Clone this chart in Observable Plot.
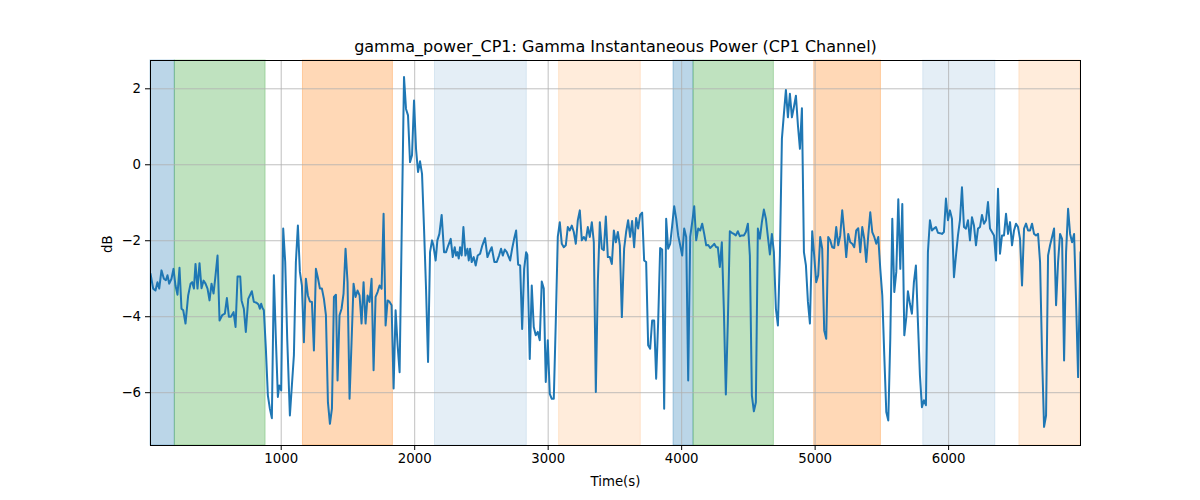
<!DOCTYPE html>
<html>
<head>
<meta charset="utf-8">
<script src="https://cdn.jsdelivr.net/npm/d3@7"></script>
<script src="https://cdn.jsdelivr.net/npm/@observablehq/plot@0.6"></script>
<style>
  html, body { margin: 0; padding: 0; background: white; }
  #chart { width: 1200px; height: 500px; }
</style>
</head>
<body>
<div id="chart"></div>
<script>
const chartTitle = "gamma_power_CP1: Gamma Instantaneous Power (CP1 Channel)";
const xLabel = "Time(s)";
const yLabel = "dB";
const xTicks = [1000, 2000, 3000, 4000, 5000, 6000];
const yTicks = [-6, -4, -2, 0, 2];

// Shaded epochs
const spanStart = [20.8, 203, 1163, 2152, 3082, 3939, 4089, 4993, 5810, 6530];
const spanEnd   = [203, 883, 1837, 2840, 3694, 4089, 4691, 5493, 6350, 6988];
const spanColor = ["#1f77b4", "#2ca02c", "#ff7f0e", "#1f77b4", "#ff7f0e", "#1f77b4", "#2ca02c", "#ff7f0e", "#1f77b4", "#ff7f0e"];
const spanAlpha = [0.3, 0.3, 0.3, 0.12, 0.15, 0.3, 0.3, 0.3, 0.12, 0.15];

// Series (time in s, power in dB)
const timeS = [20.8,40.8,58,73,86,103,121,136,148,161,178,193,208,223,238,253,266,283,303,321,333,346,358,373,388,403,418,433,448,463,478,493,508,523,538,558,578,593,608,623,643,658,673,693,
703,720,735,753,780,795,815,830,840,850,860,870,885,900,915,930,945,960,975,985,1000,1015,1030,1045,1065,1080,1095,1110,1125,1140,1155,1170,1185,1200,1215,1230,1245,1260,1275,1290,1305,1320,1335,1350,1365,1380,1395,1410,
1422,1437,1452,1467,1482,1497,1512,1527,1542,1557,1572,1587,1602,1617,1632,1647,1662,1677,1692,1707,1722,1737,1752,1767,1782,1797,1812,1827,1842,1857,1872,1887,1920,1935,1950,1965,1980,1995,2010,2025,2040,2055,2070,2085,2100,2115,2130,
2140,2157,2170,2185,2202,2220,2235,2252,2270,2285,2300,2310,2320,2330,2340,2352,2365,2380,2395,2405,2415,2427,2442,2457,2472,2490,2507,2527,2545,2560,2577,2597,2615,2632,2647,2660,2675,2690,2705,2715,2730,2745,2760,2775,2790,2805,2820,2835,
2844,2862,2877,2892,2907,2922,2937,2952,2967,2982,2997,3012,3027,3042,3057,3072,3087,3102,3117,3132,3147,3162,3177,3192,3207,3222,3237,3252,3267,3282,3297,3312,3327,3342,3357,3372,3387,3402,3417,3432,3447,3462,3477,3492,3507,3522,3537,3552,
3569,3584,3599,3614,3629,3644,3659,3674,3689,3704,3719,3734,3749,3764,3779,3794,3809,3824,3839,3854,3869,3884,3899,3914,3929,3944,3959,3974,3989,4004,4019,4034,4049,4064,4079,4094,4109,4124,4139,4154,4169,4184,4199,4214,4229,4244,4259,
4271,4286,4301,4316,4331,4346,4361,4376,4391,4406,4421,4436,4451,4466,4481,4496,4511,4526,4541,4556,4571,4586,4601,4616,4631,4646,4661,4676,4691,4706,4721,4736,4751,4766,4781,4796,4811,4826,4841,4856,4871,4886,4901,4916,4931,4946,4961,
4978,4993,5008,5023,5038,5053,5068,5083,5098,5113,5128,5143,5158,5173,5188,5203,5218,5233,5248,5263,5278,5293,5308,5323,5338,5353,5368,5383,5398,5413,5428,5443,5458,5473,5488,5503,5518,5533,5548,5563,5578,5593,5608,5623,5638,5653,5668,5683,
5695,5710,5725,5740,5755,5770,5785,5800,5815,5830,5845,5860,5875,5890,5905,5920,5935,5950,5965,5980,5995,6010,6025,6040,6055,6070,6085,6100,6115,6130,6145,6160,6175,6190,6205,6220,6235,6250,6265,6280,6295,6310,6325,6340,6355,6370,6385,6400,6415,
6430,6445,6460,6475,6490,6505,6520,6535,6550,6565,6580,6595,6610,6625,6640,6655,6670,6685,6700,6715,6730,6745,6760,6775,6790,6805,6820,6835,6850,6865,6880,6895,6910,6925,6940,6955,6970,6988];

const powerDb = [-2.87,-3.26,-3.31,-3.09,-3.26,-2.78,-3.0,-3.04,-2.91,-3.13,-3.0,-2.74,-3.18,-3.42,-2.71,-3.79,-3.83,-4.18,-3.44,-3.13,-3.09,-3.26,-2.61,-3.26,-2.59,-3.25,-3.05,-3.13,-3.26,-3.57,-3.13,-3.39,-2.91,-2.39,-4.10,-3.96,-3.92,-3.51,-4.0,-4.0,-3.88,-4.27,-2.94,-2.94,
-3.57,-3.79,-4.40,-3.53,-3.33,-3.61,-3.63,-3.68,-3.79,-3.66,-3.77,-3.83,-4.84,-6.07,-6.42,-6.67,-2.91,-4.58,-6.11,-5.81,-5.94,-1.68,-2.56,-4.58,-6.60,-5.81,-5.02,-2.56,-1.60,-2.82,-3.18,-4.67,-3.0,-3.44,-3.60,-3.61,-4.89,-2.74,-2.98,-3.26,-3.26,-3.53,-3.96,-6.25,-6.82,-6.42,-3.48,-3.42,
-5.68,-3.96,-3.79,-3.39,-2.21,-3.09,-6.16,-4.67,-3.13,-3.48,-3.31,-3.44,-4.18,-3.09,-4.18,-3.44,-3.61,-3.0,-5.41,-3.48,-3.35,-3.18,-3.26,-1.29,-4.23,-3.57,-3.61,-3.70,-5.89,-3.83,-4.75,-5.46,2.31,1.47,1.30,0.07,0.25,1.69,0.42,-0.19,0.09,-0.24,-1.68,-3.26,-5.19,-2.30,-1.99,
-2.12,-2.52,-1.99,-1.82,-1.32,-2.30,-2.30,-2.12,-1.95,-2.43,-2.17,-2.39,-2.30,-2.47,-2.17,-2.39,-1.64,-2.39,-2.21,-2.52,-2.21,-2.56,-2.43,-2.65,-2.39,-2.34,-2.12,-1.93,-2.43,-2.30,-2.17,-2.56,-2.56,-2.39,-2.21,-2.39,-2.23,-2.30,-2.43,-2.52,-2.21,-1.95,-1.73,-2.63,-2.65,-4.32,-2.74,-2.30,
-2.37,-5.11,-3.18,-4.27,-4.49,-4.40,-4.62,-3.07,-3.26,-5.72,-4.62,-6.03,-6.16,-6.16,-4.14,-1.90,-1.51,-2.08,-2.17,-2.12,-1.64,-1.73,-1.60,-1.77,-2.08,-1.46,-1.20,-1.99,-1.90,-1.99,-1.64,-1.90,-1.51,-2.04,-5.98,-3.09,-1.51,-2.21,-2.25,-1.36,-2.43,-2.43,-2.61,-1.73,-2.04,-1.77,-2.12,-4.01,
-2.21,-1.77,-1.46,-1.90,-1.48,-2.17,-1.40,-1.68,-1.32,-1.26,-2.52,-2.56,-4.75,-4.84,-4.10,-4.10,-5.63,-4.14,-2.19,-2.23,-6.42,-1.42,-2.21,-2.08,-1.60,-1.09,-1.42,-1.86,-2.12,-2.39,-1.68,-1.90,-5.68,-1.90,-1.51,-1.09,-1.99,-1.68,-1.73,-1.55,-1.82,-2.12,-2.11,-2.19,-2.14,-2.08,-2.17,
-2.17,-2.69,-2.04,-3.79,-6.05,-4.14,-1.75,-1.79,-1.82,-1.86,-1.75,-1.88,-1.86,-1.86,-1.77,-1.55,-2.39,-6.07,-6.49,-6.25,-1.68,-1.95,-1.51,-1.18,-1.42,-1.90,-2.36,-1.82,-2.30,-3.79,-4.23,-2.39,0.68,1.34,1.97,1.25,1.87,1.25,1.52,1.82,1.04,0.42,1.49,-2.30,-2.65,-3.61,-4.18,
-1.75,-2.39,-3.09,-2.91,-1.90,-2.21,-4.36,-4.58,-1.90,-1.99,-2.17,-2.19,-1.64,-2.12,-1.86,-1.20,-1.77,-2.43,-1.82,-2.04,-2.08,-2.17,-1.73,-1.67,-2.30,-1.64,-1.95,-2.56,-1.86,-1.25,-1.77,-1.90,-2.08,-1.90,-2.74,-3.44,-5.02,-6.51,-6.73,-4.58,-1.42,-3.35,-2.82,-0.91,-2.74,-1.03,-4.49,-4.01,
-3.33,-3.66,-3.92,-3.09,-2.65,-4.14,-5.54,-6.38,-6.20,-6.33,-2.30,-1.46,-1.73,-1.68,-1.64,-1.79,-1.80,-1.82,-1.77,-0.89,-1.46,-1.20,-1.42,-2.96,-2.39,-1.86,-1.46,-0.59,-1.64,-1.68,-1.46,-1.99,-1.38,-1.60,-2.12,-1.68,-1.64,-1.32,-1.55,-1.46,-0.98,-1.68,-1.77,-1.86,-2.52,-0.63,-2.34,-1.86,-1.86,
-1.29,-1.82,-1.51,-2.12,-1.73,-1.55,-1.64,-1.95,-3.18,-1.68,-1.55,-1.73,-1.73,-1.55,-1.82,-1.86,-1.82,-2.56,-5.02,-6.90,-6.60,-2.39,-2.12,-1.90,-1.68,-3.70,-2.56,-1.82,-1.95,-5.15,-2.30,-1.16,-1.82,-2.04,-1.82,-3.61,-5.59,-2.30];

const xDomain = [timeS[0], timeS[timeS.length - 1]];
const yDomain = [-7.39, 2.745];

const spans = spanStart.map((s, i) => ({start: s, end: spanEnd[i], color: spanColor[i], alpha: spanAlpha[i]}));
const series = timeS.map((t, i) => ({t, v: powerDb[i]}));

const chart = Plot.plot({
  width: 1200,
  height: 500,
  marginLeft: 150,
  marginRight: 120,
  marginTop: 60,
  marginBottom: 55,
  style: {fontFamily: "DejaVu Sans, sans-serif", fontSize: "13.3px", background: "white", color: "black"},
  x: {domain: xDomain, ticks: xTicks, label: null},
  y: {domain: yDomain, ticks: yTicks, label: null},
  marks: [
    ...spans.map(s => Plot.rect([s], {x1: "start", x2: "end", fill: s.color, fillOpacity: s.alpha, stroke: s.color, strokeOpacity: s.alpha, strokeWidth: 1})),
    Plot.gridX(xTicks, {stroke: "#b0b0b0", strokeOpacity: 1, strokeWidth: 0.8}),
    Plot.gridY(yTicks, {stroke: "#b0b0b0", strokeOpacity: 1, strokeWidth: 0.8}),
    Plot.line(series, {x: "t", y: "v", stroke: "#1f77b4", strokeWidth: 2, clip: true}),
    Plot.frame({stroke: "black", strokeWidth: 1}),
    Plot.axisX(xTicks, {tickSize: 5, tickPadding: 3.5, tickFormat: d3.format("d"), label: null}),
    Plot.axisY(yTicks, {tickSize: 5, tickPadding: 4.5, label: null}),
    Plot.text([chartTitle], {frameAnchor: "top", lineAnchor: "middle", dy: -14, text: d => d, fontSize: 16, fill: "black"}),
    Plot.text([xLabel], {frameAnchor: "bottom", lineAnchor: "middle", dy: 36, text: d => d, fontSize: 13.3, fill: "black"}),
    Plot.text([yLabel], {frameAnchor: "left", lineAnchor: "middle", dx: -43, rotate: -90, text: d => d, fontSize: 13.3, fill: "black"})
  ]
});
document.getElementById("chart").appendChild(chart);
</script>
</body>
</html>
